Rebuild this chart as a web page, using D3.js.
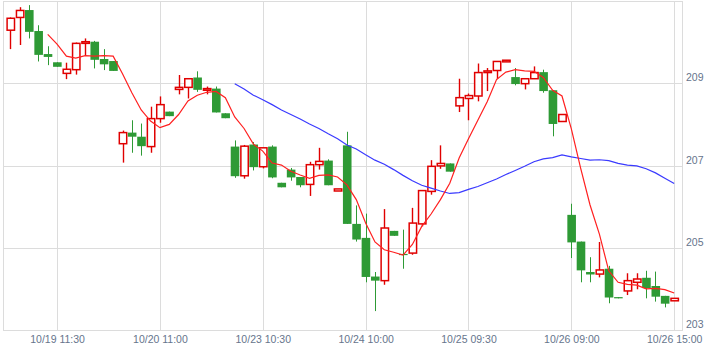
<!DOCTYPE html>
<html>
<head>
<meta charset="utf-8">
<script src="https://cdn.jsdelivr.net/npm/d3@7"></script>
<style>
  body { margin: 0; background: #fff; }
  text { font-family: "Liberation Sans", Arial, sans-serif; }
</style>
</head>
<body>
<div id="chart"></div>
<script>
// tick labels on the x axis and the candle index they sit on
const tickIndex = [5, 16, 27, 38, 49, 60, 71];
const tickLabels = ["10/19 11:30", "10/20 11:00", "10/23 10:30", "10/24 10:00", "10/25 09:30", "10/26 09:00", "10/26 15:00"];
const yTicks = [203, 205, 207, 209];

// OHLC
const openP = [210.29, 210.60, 210.78, 210.27, 209.71, 209.51, 209.24, 209.33, 209.97, 210.01, 209.59, 209.54,
  207.53, 207.80, 207.70, 207.46, 208.14, 208.31, 208.85, 208.90, 209.14, 208.83, 208.87, 208.27,
  207.46, 206.75, 207.51, 206.97, 207.46, 206.58, 206.90, 206.72, 206.54, 207.02, 207.12, 206.38,
  207.49, 205.58, 205.24, 204.30, 204.20, 205.41, 204.85, 204.87, 205.58, 206.37, 206.99, 207.05,
  208.45, 208.63, 208.69, 209.26, 209.31, 209.52, 209.15, 208.99, 209.11, 209.27, 208.83, 208.07,
  205.80, 205.15, 204.41, 204.36, 204.49, 203.80, 203.95, 204.16, 204.27, 204.07, 203.83, 203.71];
const highP = [210.60, 210.85, 210.90, 210.41, 209.90, 209.51, 209.50, 209.99, 210.09, 210.03, 209.83, 209.54,
  207.85, 208.10, 208.02, 208.43, 208.68, 208.31, 209.20, 209.11, 209.29, 208.92, 208.92, 208.27,
  207.61, 207.50, 207.57, 207.43, 207.49, 206.58, 206.94, 206.72, 207.09, 207.43, 207.15, 206.43,
  207.82, 206.03, 205.83, 204.41, 205.94, 205.41, 205.44, 205.97, 206.39, 207.13, 207.49, 207.05,
  209.11, 208.75, 209.48, 209.37, 209.53, 209.56, 209.37, 209.11, 209.41, 209.33, 208.83, 208.24,
  206.07, 205.15, 204.77, 205.14, 204.56, 203.80, 204.38, 204.38, 204.44, 204.42, 203.83, 203.77];
const lowP = [209.83, 209.93, 210.09, 209.53, 209.44, 209.40, 209.10, 209.21, 209.67, 209.36, 209.32, 209.30,
  207.07, 207.31, 207.24, 207.31, 208.04, 208.20, 208.73, 208.63, 208.79, 208.73, 208.29, 208.15,
  206.70, 206.68, 206.88, 206.93, 206.69, 206.47, 206.63, 206.47, 206.26, 206.90, 206.52, 206.38,
  205.58, 205.15, 204.16, 203.46, 204.10, 205.29, 204.49, 204.83, 205.52, 206.29, 206.92, 206.85,
  208.30, 208.10, 208.56, 208.81, 209.10, 209.52, 208.95, 208.85, 209.11, 208.77, 207.71, 208.07,
  204.75, 204.16, 204.16, 204.28, 203.65, 203.77, 203.85, 203.99, 203.77, 203.69, 203.55, 203.71];
const closeP = [210.58, 210.77, 210.25, 209.69, 209.64, 209.40, 209.34, 209.97, 210.01, 209.57, 209.46, 209.30,
  207.80, 207.70, 207.47, 208.14, 208.48, 208.20, 208.90, 209.11, 208.84, 208.87, 208.29, 208.15,
  206.74, 207.47, 206.96, 207.43, 206.71, 206.47, 206.71, 206.52, 207.02, 207.10, 206.52, 206.43,
  205.58, 205.20, 204.29, 204.20, 205.48, 205.29, 204.84, 205.60, 206.39, 206.98, 207.05, 206.85,
  208.65, 208.70, 209.26, 209.30, 209.53, 209.56, 208.98, 209.11, 209.26, 208.81, 208.01, 208.24,
  205.13, 204.45, 204.35, 204.46, 203.79, 203.77, 204.20, 204.24, 204.02, 203.81, 203.64, 203.77];

// moving average lines (red starts at candle 4, blue at candle 24)
const ma5Start = 4;
const ma5 = [210.19, 209.95, 209.66, 209.61, 209.67, 209.66, 209.67, 209.66, 209.23, 208.77, 208.35, 208.08,
  207.92, 208.00, 208.24, 208.57, 208.71, 208.78, 208.80, 208.65, 208.18, 207.90, 207.52, 207.35,
  207.06, 207.01, 206.86, 206.77, 206.69, 206.76, 206.77, 206.72, 206.53, 206.17, 205.60, 205.14,
  204.95, 204.89, 204.82, 205.08, 205.52, 205.82, 206.17, 206.57, 207.18, 207.65, 208.10, 208.55,
  209.09, 209.27, 209.33, 209.30, 209.29, 209.14, 208.83, 208.69, 207.89, 206.93, 206.04, 205.33,
  204.44, 204.16, 204.11, 204.09, 204.00, 204.01, 203.98, 203.90];
const ma25Start = 24;
const ma25 = [208.99, 208.86, 208.71, 208.60, 208.48, 208.35, 208.24, 208.13, 208.01, 207.90, 207.77, 207.65,
  207.50, 207.40, 207.26, 207.13, 207.03, 206.90, 206.76, 206.63, 206.52, 206.45, 206.38, 206.32,
  206.34, 206.42, 206.49, 206.58, 206.67, 206.78, 206.88, 206.98, 207.09, 207.16, 207.19, 207.26,
  207.21, 207.17, 207.13, 207.14, 207.12, 207.05, 207.01, 206.99, 206.92, 206.82, 206.69, 206.56];

const createCandleChart = () => {
    const w = 724, h = 352;
    const plot = { left: 3, right: 682, top: 1, bottom: 330 };
    const svg = d3.select("#chart").append("svg")
        .attr("width", w).attr("height", h);

    const n = closeP.length;
    const xScale = d3.scaleLinear().domain([0, n - 1]).range([10.3, 674.2]);
    const yScale = d3.scaleLinear().domain([203, 211]).range([plot.bottom, plot.top]);
    const crisp = v => Math.round(v) + 0.5;

    // Grid
    const grid = svg.append("g").attr("stroke", "#dcdcdc").attr("stroke-width", 1);
    grid.selectAll("line.h").data(yTicks).join("line")
        .attr("x1", plot.left).attr("x2", plot.right)
        .attr("y1", d => crisp(yScale(d))).attr("y2", d => crisp(yScale(d)));
    grid.selectAll("line.v").data(tickIndex).join("line")
        .attr("x1", d => crisp(xScale(d))).attr("x2", d => crisp(xScale(d)))
        .attr("y1", plot.top).attr("y2", plot.bottom);
    grid.append("rect")
        .attr("x", plot.left + 0.5).attr("y", plot.top + 0.5)
        .attr("width", plot.right - plot.left).attr("height", plot.bottom - plot.top)
        .attr("fill", "none");

    // Axes (labels only)
    const xAxis = svg.append("g")
        .attr("transform", `translate(0,${plot.bottom})`)
        .call(d3.axisBottom(xScale).tickValues(tickIndex)
            .tickFormat((d, i) => tickLabels[i]).tickSize(0).tickPadding(5.5));
    const yAxis = svg.append("g")
        .attr("transform", `translate(${plot.right},0)`)
        .call(d3.axisRight(yScale).tickValues(yTicks).tickSize(0).tickPadding(4));
    [xAxis, yAxis].forEach(g => {
        g.select(".domain").remove();
        g.selectAll("text").attr("fill", "#66758c").style("font-size", "10.5px");
    });
    yAxis.selectAll("text").attr("dy", "-0.22em");

    // Candles
    const red = "#e00000", green = "#2e9a35";
    const candles = d3.range(n).map(i => ({
        i, o: openP[i], h: highP[i], l: lowP[i], c: closeP[i], up: closeP[i] >= openP[i]
    }));
    const g = svg.append("g");
    g.selectAll("line.wick").data(candles).join("line")
        .attr("x1", d => crisp(xScale(d.i))).attr("x2", d => crisp(xScale(d.i)))
        .attr("y1", d => yScale(d.h)).attr("y2", d => yScale(d.l))
        .attr("stroke", d => d.up ? red : green)
        .attr("stroke-width", d => d.up ? 1.4 : 1);
    g.selectAll("rect.body").data(candles).join("rect")
        .attr("x", d => d.up ? xScale(d.i) - 3.2 : xScale(d.i) - 4)
        .attr("width", d => d.up ? 7.4 : 8.6)
        .attr("y", d => yScale(Math.max(d.o, d.c)))
        .attr("height", d => Math.max(1.2, yScale(Math.min(d.o, d.c)) - yScale(Math.max(d.o, d.c))))
        .attr("fill", d => d.up ? "#fff" : green)
        .attr("stroke", d => d.up ? red : "none")
        .attr("stroke-width", 1.5);

    // Moving averages
    const line = start => d3.line()
        .x((d, i) => xScale(i + start))
        .y(d => yScale(d));
    svg.append("path").datum(ma25)
        .attr("fill", "none").attr("stroke", "#3a3aff").attr("stroke-width", 1.2)
        .attr("d", line(ma25Start));
    svg.append("path").datum(ma5)
        .attr("fill", "none").attr("stroke", "#ff2020").attr("stroke-width", 1.2)
        .attr("d", line(ma5Start));
};

createCandleChart();
</script>
</body>
</html>
